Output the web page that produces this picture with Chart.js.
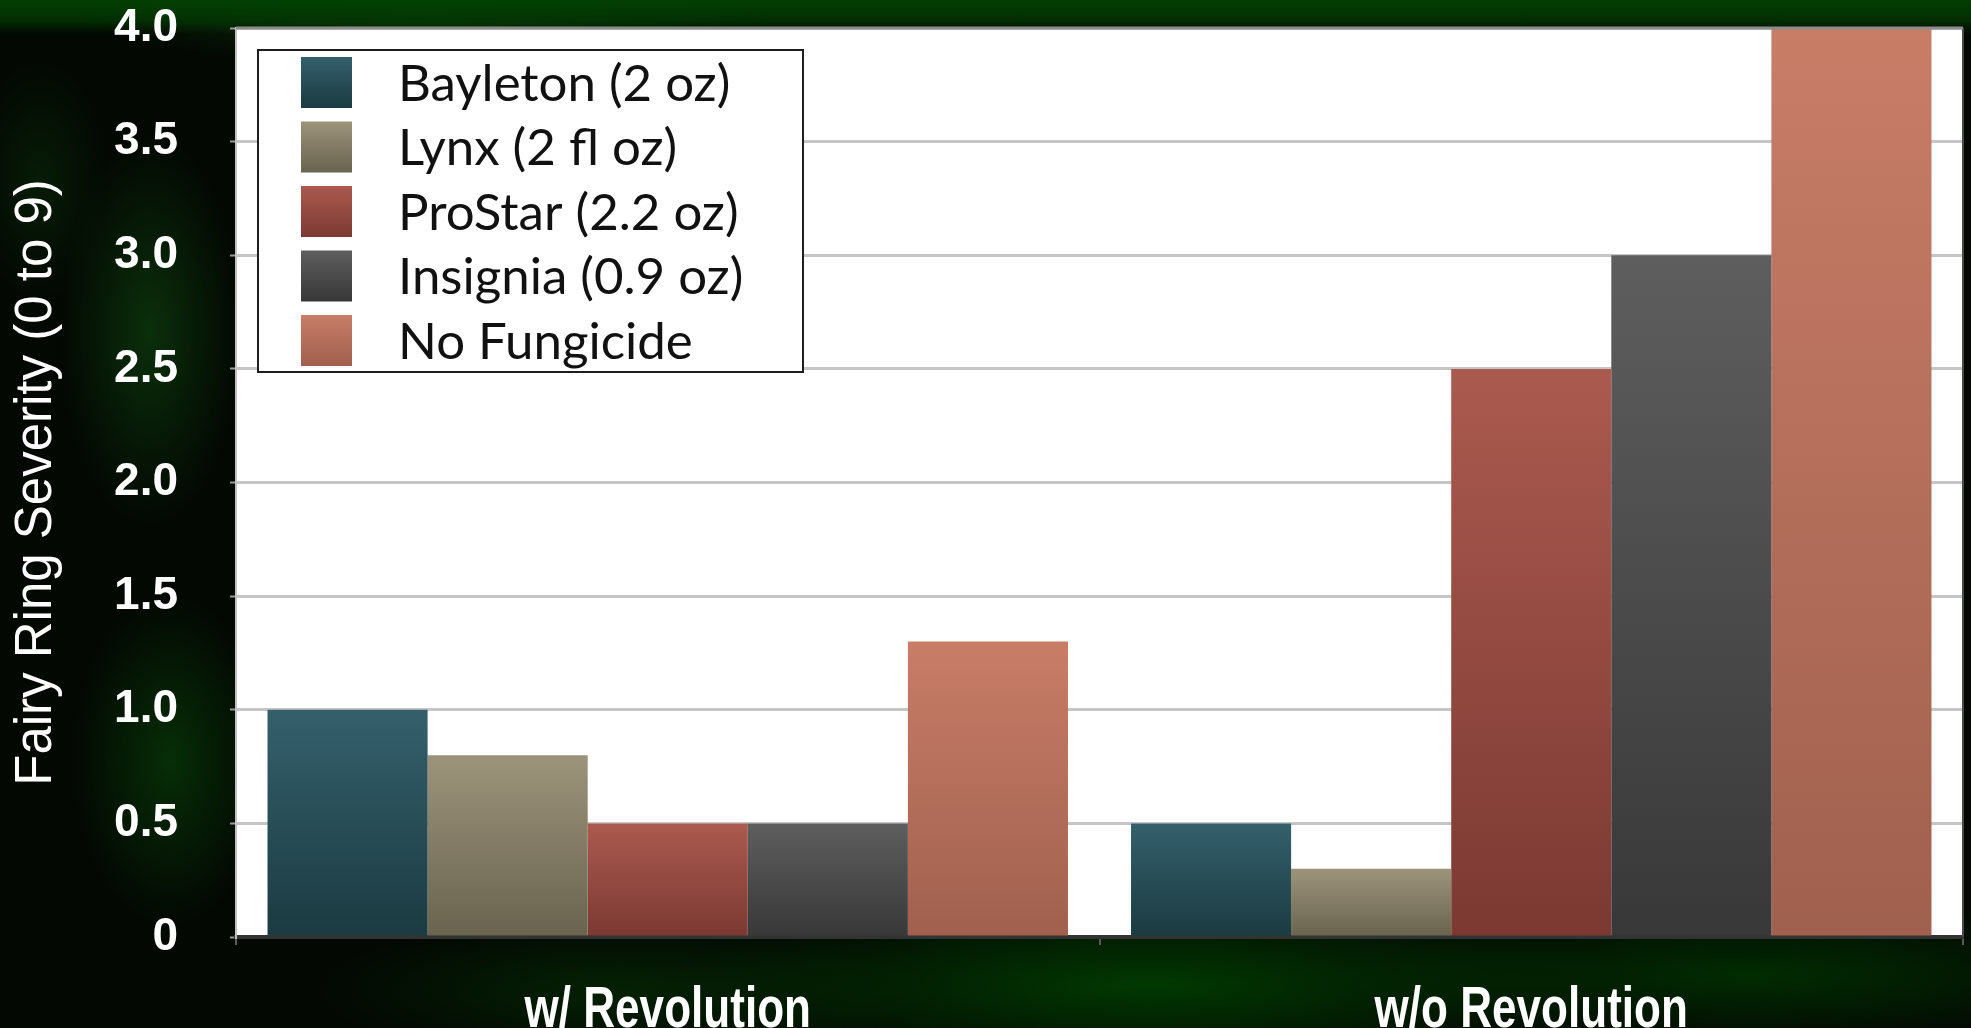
<!DOCTYPE html>
<html>
<head>
<meta charset="utf-8">
<title>Fairy Ring Severity</title>
<script src="https://cdn.jsdelivr.net/npm/chart.js@4.4.1/dist/chart.umd.min.js"></script>
<style>
  html, body { margin: 0; padding: 0; }
  body {
    width: 1971px;
    height: 1028px;
    overflow: hidden;
    background:
      linear-gradient(to bottom, rgba(2, 66, 2, 0.95) 0, rgba(2, 56, 2, 0.8) 20px, rgba(0, 0, 0, 0) 34px),
      radial-gradient(ellipse 420px 70px at 420px 10px, rgba(20, 80, 20, 0.6), rgba(0, 0, 0, 0) 80%),
      radial-gradient(ellipse 120px 260px at 150px 330px, rgba(14, 64, 14, 0.7), rgba(0, 0, 0, 0) 75%),
      radial-gradient(ellipse 130px 220px at 170px 760px, rgba(8, 62, 8, 0.7), rgba(0, 0, 0, 0) 75%),
      radial-gradient(ellipse 90px 160px at 40px 180px, rgba(10, 48, 10, 0.5), rgba(0, 0, 0, 0) 75%),
      radial-gradient(ellipse 600px 110px at 1150px 985px, rgba(1, 62, 1, 0.9), rgba(0, 0, 0, 0) 80%),
      radial-gradient(ellipse 520px 90px at 1750px 975px, rgba(1, 48, 1, 0.9), rgba(0, 0, 0, 0) 80%),
      radial-gradient(ellipse 380px 90px at 620px 990px, rgba(4, 40, 4, 0.8), rgba(0, 0, 0, 0) 80%),
      #030803;
  }
  #wrap { position: relative; width: 1971px; height: 1028px; }
</style>
</head>
<body>
<div id="wrap"><canvas id="fairyRing"></canvas></div>
<script>
const categories = ['w/ Revolution', 'w/o Revolution'];
const products = ['Bayleton (2 oz)', 'Lynx (2 fl oz)', 'ProStar (2.2 oz)', 'Insignia (0.9 oz)', 'No Fungicide'];
const bayleton = [1.0, 0.5];
const lynx = [0.8, 0.3];
const prostar = [0.5, 2.5];
const insignia = [0.5, 3.0];
const noFungicide = [1.3, 4.0];
const yTicks = [0, 0.5, 1.0, 1.5, 2.0, 2.5, 3.0, 3.5, 4.0];

// top / bottom shade of each bar
const shades = [
    ['#34606c', '#1b3a41'],
    ['#9c937a', '#69634f'],
    ['#ab5a4f', '#7b3932'],
    ['#5e5e5e', '#383838'],
    ['#c87d67', '#a0604e']
];

const seriesValues = [bayleton, lynx, prostar, insignia, noFungicide];

function barFill(top, bottom) {
    return (ctx) => {
        const chart = ctx.chart;
        if (!chart.chartArea || ctx.raw === undefined) return bottom;
        const y = chart.scales.y;
        const y0 = y.getPixelForValue(0);
        const y1 = y.getPixelForValue(ctx.raw);
        if (Math.abs(y0 - y1) < 1) return top;
        const g = chart.ctx.createLinearGradient(0, y1, 0, y0);
        g.addColorStop(0, top);
        g.addColorStop(1, bottom);
        return g;
    };
}

const plotFrame = {
    id: 'plotFrame',
    beforeDraw(chart) {
        const {ctx, chartArea: a} = chart;
        ctx.save();
        ctx.fillStyle = '#ffffff';
        ctx.fillRect(a.left, a.top, a.right - a.left, a.bottom - a.top);
        ctx.restore();
    },
    afterDatasetsDraw(chart) {
        const {ctx, chartArea: a} = chart;
        ctx.save();
        // right edge
        ctx.strokeStyle = '#4a4a4a';
        ctx.lineWidth = 2;
        ctx.beginPath();
        ctx.moveTo(a.right, a.top);
        ctx.lineTo(a.right, a.bottom);
        ctx.stroke();
        // top edge
        ctx.strokeStyle = '#8c8c8c';
        ctx.lineWidth = 3;
        ctx.beginPath();
        ctx.moveTo(a.left, a.top);
        ctx.lineTo(a.right, a.top);
        ctx.stroke();
        ctx.restore();
    }
};

// category names under the x axis, squeezed to a condensed look
const condensedLabels = {
    id: 'condensedLabels',
    afterDraw(chart) {
        const {ctx} = chart;
        const x = chart.scales.x;
        ctx.save();
        ctx.fillStyle = '#ffffff';
        ctx.font = 'bold 58px "Liberation Sans", Arial, sans-serif';
        ctx.textAlign = 'center';
        ctx.textBaseline = 'alphabetic';
        chart.data.labels.forEach((label, i) => {
            ctx.save();
            ctx.translate(x.getPixelForValue(i), x.bottom - 1);
            ctx.scale(0.76, 1);
            ctx.fillText(label, 0, 0);
            ctx.restore();
        });
        ctx.restore();
    }
};

// legend box drawn inside the plot, top left
const boxLegend = {
    id: 'boxLegend',
    afterDraw(chart) {
        const {ctx, chartArea: a} = chart;
        const x = a.left + 22, y = a.top + 22, w = 545, h = 322;
        const sw = 51, pitch = 64.5;
        ctx.save();
        ctx.fillStyle = '#ffffff';
        ctx.fillRect(x, y, w, h);
        ctx.strokeStyle = '#1e1e1e';
        ctx.lineWidth = 2;
        ctx.strokeRect(x, y, w, h);
        ctx.font = '51px Lato, "Open Sans", sans-serif';
        ctx.textBaseline = 'middle';
        chart.data.datasets.forEach((ds, i) => {
            const sy = y + 7 + i * pitch;
            const g = ctx.createLinearGradient(0, sy, 0, sy + sw);
            g.addColorStop(0, shades[i][0]);
            g.addColorStop(1, shades[i][1]);
            ctx.fillStyle = g;
            ctx.fillRect(x + 43, sy, sw, sw);
            ctx.fillStyle = '#111111';
            ctx.fillText(ds.label, x + 140, sy + sw / 2 + 2);
        });
        ctx.restore();
    }
};

const chart = new Chart(document.getElementById('fairyRing'), {
    type: 'bar',
    data: {
        labels: categories,
        datasets: products.map((name, i) => ({
            label: name,
            data: seriesValues[i],
            backgroundColor: barFill(shades[i][0], shades[i][1]),
            borderWidth: 0,
            categoryPercentage: 0.927,
            barPercentage: 1.0
        }))
    },
    options: {
        responsive: true,
        maintainAspectRatio: false,
        animation: false,
        layout: {
            padding: { top: 28, right: 8, left: 0, bottom: 0 }
        },
        plugins: {
            legend: { display: false },
            tooltip: { enabled: false }
        },
        scales: {
            x: {
                afterFit(scale) {
                    scale.height = 91;
                    scale.paddingLeft = 0;
                    scale.paddingRight = 0;
                },
                grid: {
                    offset: true,
                    drawOnChartArea: false,
                    drawTicks: true,
                    tickLength: 8,
                    color: '#5a5a5a',
                    lineWidth: 2
                },
                border: { color: '#333333', width: 4 },
                ticks: { display: false }
            },
            y: {
                min: 0,
                max: 4,
                afterFit(scale) {
                    scale.width = 236;
                    scale.paddingTop = 0;
                    scale.paddingBottom = 0;
                },
                afterBuildTicks(scale) { scale.ticks = yTicks.map(v => ({ value: v })); },
                grid: {
                    color: '#c6c6c6',
                    lineWidth: 3,
                    tickLength: 6,
                    tickColor: '#9a9a9a',
                    tickWidth: 2
                },
                border: { color: '#c0c0c0', width: 2 },
                ticks: {
                    color: '#ffffff',
                    padding: 52,
                    callback: v => v === 0 ? '0' : v.toFixed(1),
                    font: { family: '"Liberation Sans", Arial, sans-serif', size: 46, weight: 'bold' }
                },
                title: {
                    display: true,
                    text: 'Fairy Ring Severity (0 to 9)',
                    color: '#ffffff',
                    padding: { top: 6, bottom: 0 },
                    font: { family: '"Liberation Sans", Arial, sans-serif', size: 51, weight: 'normal' }
                }
            }
        }
    },
    plugins: [plotFrame, condensedLabels, boxLegend]
});
</script>
</body>
</html>
